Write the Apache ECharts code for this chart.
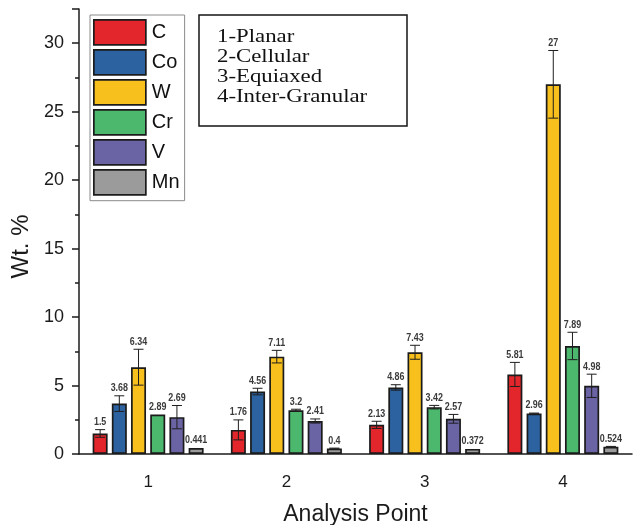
<!DOCTYPE html>
<html>
<head>
<meta charset="utf-8">
<script src="https://cdn.jsdelivr.net/npm/echarts@6/dist/echarts.min.js"></script>
<style>
  html, body { margin: 0; padding: 0; background: #fff; }
  #chart { width: 633px; height: 525px; }
</style>
</head>
<body>
<div id="chart"></div>
<script>
// Analysis points along the x axis
const points = ['1', '2', '3', '4'];
// Elements measured at each point
const elements = ['C', 'Co', 'W', 'Cr', 'V', 'Mn'];

// Mean composition (Wt. %) per element at points 1..4
const C  = [1.5, 1.76, 2.13, 5.81];
const Co = [3.68, 4.56, 4.86, 2.96];
const W  = [6.34, 7.11, 7.43, 27];
const Cr = [2.89, 3.2, 3.42, 7.89];
const V  = [2.69, 2.41, 2.57, 4.98];
const Mn = [0.441, 0.4, 0.372, 0.524];

// Standard deviation (Wt. %) per element at points 1..4
const errC  = [0.28, 0.73, 0.26, 0.88];
const errCo = [0.57, 0.24, 0.2, 0.03];
const errW  = [1.31, 0.46, 0.51, 2.47];
const errCr = [0, 0.07, 0.13, 1.0];
const errV  = [0.85, 0.15, 0.32, 0.85];
const errMn = [0, 0.03, 0, 0.03];

// Morphology key
const notes = ['1-Planar', '2-Cellular', '3-Equiaxed', '4-Inter-Granular'];

const values = [C, Co, W, Cr, V, Mn];
const errors = [errC, errCo, errW, errCr, errV, errMn];
const colors = ['#e3262b', '#2c62a0', '#f8c01c', '#4cb86e', '#6b64a4', '#9b9b9b'];

const SANS = '"Liberation Sans", Arial, sans-serif';
const SERIF = '"Liberation Serif", "Times New Roman", serif';
const INK = '#1b1b1b';
const BAR_W = 15;
const BAR_GAP = 0.28;
const PITCH = BAR_W * (1 + BAR_GAP);

const chart = echarts.init(document.getElementById('chart'), null, { renderer: 'canvas' });

const barSeries = elements.map((name, i) => ({
  name,
  type: 'bar',
  data: values[i],
  barWidth: BAR_W,
  barGap: (BAR_GAP * 100) + '%',
  itemStyle: { color: colors[i], borderColor: INK, borderWidth: 1.7 },
  z: 2
}));

// error bars + value labels, one item per (point, element)
const errData = [];
values.forEach((arr, si) => {
  arr.forEach((v, ci) => errData.push([ci, si, v, errors[si][ci]]));
});

const errSeries = {
  type: 'custom',
  data: errData,
  encode: { x: 0, y: 2 },
  z: 5,
  renderItem(params, api) {
    const ci = api.value(0), si = api.value(1), v = api.value(2), e = api.value(3);
    const center = api.coord([ci, v]);
    const x = center[0] + (si - 2.5) * PITCH;
    const yHi = api.coord([ci, v + e])[1];
    const yLo = api.coord([ci, v - e])[1];
    const stroke = { stroke: '#1e1e1e', lineWidth: 1 };
    const children = [];
    if (e > 0) {
      children.push({ type: 'line', shape: { x1: x, y1: yHi, x2: x, y2: yLo }, style: stroke });
      children.push({ type: 'line', shape: { x1: x - 5, y1: yHi, x2: x + 5, y2: yHi }, style: stroke });
      children.push({ type: 'line', shape: { x1: x - 5, y1: yLo, x2: x + 5, y2: yLo }, style: stroke });
    }
    // condensed bold value label sitting on top of the error cap
    children.push({
      type: 'text',
      x: x,
      y: yHi - 2,
      scaleX: 0.85,
      style: {
        text: String(v),
        x: 0,
        y: 0,
        align: 'center',
        verticalAlign: 'bottom',
        font: 'bold 10.5px ' + SANS,
        fill: '#3a3a3a'
      }
    });
    return { type: 'group', children };
  }
};

// bordered key box with the morphology notes
const noteBox = [
  {
    type: 'rect',
    shape: { x: 199, y: 15, width: 208, height: 111 },
    style: { fill: '#fff', stroke: '#151515', lineWidth: 1.5 },
    z: 10
  }
].concat(notes.map((t, i) => ({
  type: 'text',
  x: 217,
  y: 37 + i * 20,
  scaleX: 1.2,
  style: {
    text: t,
    x: 0,
    y: 0,
    verticalAlign: 'middle',
    font: '19px ' + SERIF,
    fill: '#111'
  },
  z: 11
})));

chart.setOption({
  animation: false,
  backgroundColor: '#fff',
  grid: { left: 79, right: 1, top: 9, bottom: 71, containLabel: false, outerBoundsMode: 'none' },
  legend: {
    data: elements,
    orient: 'vertical',
    left: 90,
    top: 15,
    itemWidth: 52,
    itemHeight: 25,
    itemGap: 3.3,
    padding: [4, 5, 5, 3],
    icon: 'rect',
    borderColor: '#8a8a8a',
    borderWidth: 1,
    backgroundColor: '#fff',
    itemStyle: { borderColor: INK, borderWidth: 1.7 },
    textStyle: { fontSize: 20, color: '#111', fontFamily: SANS, padding: [0, 0, 0, 1] },
    selectedMode: false
  },
  xAxis: [
    {
      type: 'category',
      data: points,
      boundaryGap: true,
      axisLine: { lineStyle: { color: INK, width: 1.5 } },
      axisTick: { alignWithLabel: true, length: 9, lineStyle: { color: INK, width: 1.5 } },
      axisLabel: { fontSize: 17, color: INK, margin: 20, fontFamily: SANS },
      name: 'Analysis Point',
      nameLocation: 'middle',
      nameGap: 49,
      nameTextStyle: { fontSize: 23, color: INK, fontFamily: SANS }
    },
    {
      type: 'category',
      data: points,
      position: 'bottom',
      boundaryGap: true,
      axisLine: { show: false },
      axisTick: { length: 5, lineStyle: { color: INK, width: 1.5 } },
      axisLabel: { show: false }
    }
  ],
  yAxis: [
    {
      type: 'value',
      min: 0,
      max: 32.5,
      interval: 2.5,
      axisLine: { show: true, lineStyle: { color: INK, width: 1.5 } },
      axisTick: { show: true, length: 4, lineStyle: { color: INK, width: 1.5 } },
      splitLine: { show: false },
      axisLabel: {
        fontSize: 18,
        color: INK,
        margin: 15,
        fontFamily: SANS,
        formatter: v => (v % 5 === 0 ? String(v) : '')
      },
      name: 'Wt. %',
      nameLocation: 'middle',
      nameGap: 44,
      nameTextStyle: { fontSize: 24, color: INK, fontFamily: SANS, padding: [0, 30, 0, 0] }
    },
    {
      type: 'value',
      min: 0,
      max: 32.5,
      interval: 5,
      position: 'left',
      axisLine: { show: false },
      axisTick: { show: true, length: 7, lineStyle: { color: INK, width: 1.5 } },
      splitLine: { show: false },
      axisLabel: { show: false }
    }
  ],
  series: barSeries.concat([errSeries]),
  graphic: noteBox
});
</script>
</body>
</html>
